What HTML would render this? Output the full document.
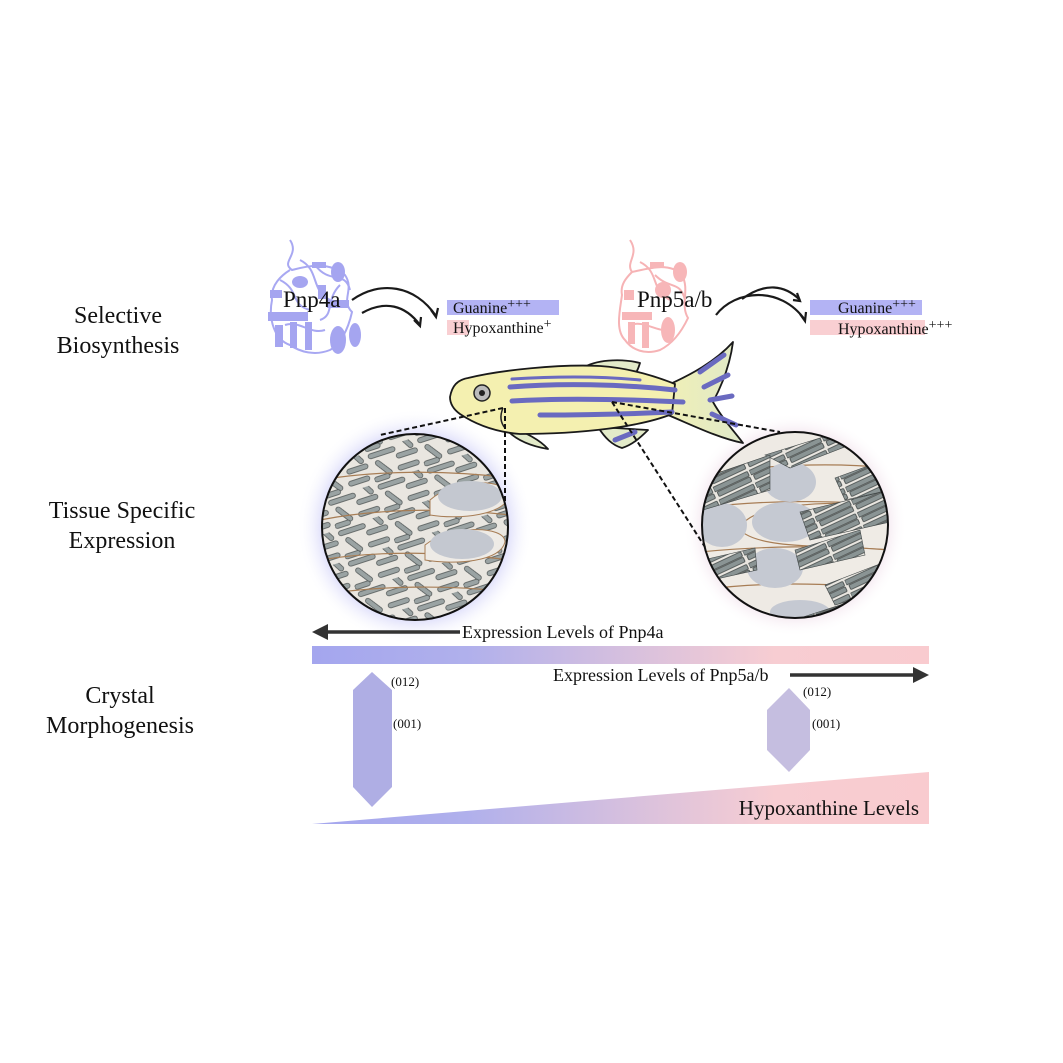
<!DOCTYPE html>
<html><head><meta charset="utf-8"><style>
html,body{margin:0;padding:0;background:#fff;}
svg{display:block;}
text{font-family:"Liberation Serif",serif;fill:#111;}
</style></head><body>
<svg width="1063" height="1063" viewBox="0 0 1063 1063" xmlns="http://www.w3.org/2000/svg">
<defs>
<radialGradient id="gb" cx="0.5" cy="0.5" r="0.5"><stop offset="0.7" stop-color="#c2c2f6"/><stop offset="1" stop-color="#fff" stop-opacity="0"/></radialGradient>
<radialGradient id="gp" cx="0.5" cy="0.5" r="0.5"><stop offset="0.75" stop-color="#ecd6e4"/><stop offset="1" stop-color="#fff" stop-opacity="0"/></radialGradient>
<linearGradient id="bar" x1="0" x2="1"><stop offset="0" stop-color="#a4a6ee"/><stop offset="0.25" stop-color="#b0b0ec"/><stop offset="0.55" stop-color="#dcc2dc"/><stop offset="0.75" stop-color="#f7cdd2"/><stop offset="1" stop-color="#f9cbcf"/></linearGradient>
<linearGradient id="tail" x1="0" x2="1"><stop offset="0" stop-color="#f0efb6"/><stop offset="1" stop-color="#dfe9c9"/></linearGradient>
<pattern id="rodsL" width="52" height="32" patternUnits="userSpaceOnUse" patternTransform="rotate(-18)">
<rect width="52" height="32" fill="#e9e6e0"/>
<g fill="#9aa3a3" stroke="#4c5252" stroke-width="0.7">
<rect x="1" y="2" width="28" height="5" rx="2.5"/><rect x="28" y="10" width="22" height="5" rx="2.5"/>
<rect x="3" y="17" width="20" height="5" rx="2.5" transform="rotate(55 13 19)"/><rect x="26" y="22" width="22" height="5" rx="2.5"/>
<rect x="0" y="26" width="16" height="5" rx="2.5"/><rect x="36" y="0" width="14" height="5" rx="2.5" transform="rotate(60 43 2)"/>
</g></pattern>
<pattern id="rodsR" width="40" height="14" patternUnits="userSpaceOnUse" patternTransform="rotate(-25)">
<rect width="40" height="14" fill="#e9e6e0"/>
<g fill="#8a9494" stroke="#3f4545" stroke-width="0.8">
<rect x="0" y="1" width="38" height="5" rx="1"/><rect x="2" y="7" width="36" height="5" rx="1"/>
</g></pattern>
<clipPath id="cl"><circle cx="415" cy="527" r="93"/></clipPath>
<clipPath id="cr"><circle cx="795" cy="525" r="93"/></clipPath>
</defs>

<text x="118" y="323" font-size="24" text-anchor="middle">Selective</text>
<text x="118" y="353" font-size="24" text-anchor="middle">Biosynthesis</text>
<text x="122" y="518" font-size="24" text-anchor="middle">Tissue Specific</text>
<text x="122" y="548" font-size="24" text-anchor="middle">Expression</text>
<text x="120" y="703" font-size="24" text-anchor="middle">Crystal</text>
<text x="120" y="733" font-size="24" text-anchor="middle">Morphogenesis</text>

<g fill="none" stroke="#a8a8f2" stroke-width="2">
<path d="M290 240 C300 255 280 262 292 270 C310 265 330 262 345 275 C355 290 340 300 352 312 C348 330 340 345 330 350 C315 356 300 352 290 345 C275 340 268 320 272 300 C270 285 282 275 290 270"/>
<path d="M300 260 C320 270 310 290 330 300 M285 325 C300 320 310 335 325 330 M340 285 C325 300 335 315 320 320 M280 280 C300 290 290 305 310 310 M315 265 C330 285 345 270 350 290"/>
</g>
<g fill="#a5a5f0">
<rect x="268" y="312" width="40" height="9"/><rect x="275" y="325" width="8" height="22"/><rect x="290" y="322" width="7" height="26"/><rect x="305" y="322" width="7" height="28"/>
<ellipse cx="338" cy="340" rx="8" ry="14"/><ellipse cx="355" cy="335" rx="6" ry="12"/><ellipse cx="338" cy="272" rx="7" ry="10"/><rect x="312" y="262" width="14" height="6"/><rect x="327" y="300" width="22" height="8"/>
<rect x="270" y="290" width="12" height="8"/><ellipse cx="300" cy="282" rx="8" ry="6"/><rect x="318" y="285" width="8" height="14"/>
</g>
<g fill="none" stroke="#f6b3b5" stroke-width="2">
<path d="M630 240 C640 255 625 262 632 272 C650 268 670 262 682 275 C690 290 680 305 688 318 C680 335 670 345 660 350 C645 355 632 350 625 340 C615 330 620 310 622 295 C620 285 626 278 632 272"/>
<path d="M640 262 C660 272 650 290 670 300 M630 325 C645 320 655 332 670 330 M655 275 C670 290 680 280 685 300"/>
</g>
<g fill="#f7b6b8">
<rect x="622" y="312" width="30" height="8"/><rect x="628" y="322" width="7" height="22"/><rect x="642" y="322" width="7" height="26"/><ellipse cx="668" cy="330" rx="7" ry="13"/><ellipse cx="680" cy="272" rx="7" ry="10"/><rect x="650" y="262" width="14" height="6"/><ellipse cx="663" cy="290" rx="8" ry="8"/><rect x="624" y="290" width="10" height="10"/>
</g>
<text x="283" y="307" font-size="23">Pnp4a</text>
<text x="637" y="307" font-size="23">Pnp5a/b</text>

<g fill="none" stroke="#1a1a1a" stroke-width="2.2">
<path d="M352 300 C380 280 415 285 436 316"/><path d="M431 310 L436 317 L438 308"/>
<path d="M362 313 C385 300 405 305 420 325"/><path d="M414 320 L420 326 L421 317"/>
<path d="M742 299 C765 282 785 285 800 300"/><path d="M793 300 L800 301 L797 293"/>
<path d="M716 315 C735 290 780 285 805 320"/><path d="M800 314 L805 321 L806 312"/>
</g>
<rect x="447" y="300" width="112" height="15" fill="#b3b3f4"/>
<rect x="447" y="320" width="22" height="15" fill="#f9cfd2"/>
<text x="453" y="313" font-size="16">Guanine<tspan font-size="14" dy="-5">+++</tspan></text>
<text x="453" y="333" font-size="16">Hypoxanthine<tspan font-size="14" dy="-5">+</tspan></text>
<rect x="810" y="300" width="112" height="15" fill="#b3b3f4"/>
<rect x="810" y="320" width="115" height="15" fill="#f9cfd2"/>
<text x="838" y="313" font-size="16">Guanine<tspan font-size="14" dy="-5">+++</tspan></text>
<text x="838" y="334" font-size="16">Hypoxanthine<tspan font-size="14" dy="-5">+++</tspan></text>

<circle cx="415" cy="527" r="118" fill="url(#gb)"/>
<circle cx="795" cy="525" r="112" fill="url(#gp)"/>

<g clip-path="url(#cl)">
<rect x="320" y="432" width="190" height="190" fill="url(#rodsL)"/>
<g fill="none" stroke="#a77d55" stroke-width="1.2">
<path d="M320 480 C380 470 450 470 510 478"/><path d="M320 520 C380 508 450 508 510 515"/><path d="M320 560 C380 550 450 552 510 560"/><path d="M320 595 C380 585 450 585 510 592"/>
</g>
<path d="M430 500 C455 478 505 478 510 495 C505 515 460 520 430 515 Z" fill="#eeebe6" stroke="#a77d55"/>
<ellipse cx="470" cy="496" rx="32" ry="15" fill="#c4c8d0"/>
<path d="M425 545 C450 525 505 525 505 542 C500 562 455 565 425 560 Z" fill="#eeebe6" stroke="#a77d55"/>
<ellipse cx="462" cy="544" rx="32" ry="15" fill="#c4c8d0"/>
</g>
<circle cx="415" cy="527" r="93" fill="none" stroke="#111" stroke-width="2"/>

<g clip-path="url(#cr)">
<rect x="700" y="430" width="190" height="190" fill="#eeeae4"/>
<g fill="#efebe5" stroke="#a77d55" stroke-width="1.2">
<path d="M700 475 C760 465 830 462 890 468 L890 505 C830 500 760 500 700 508 Z"/>
<path d="M740 530 C745 505 820 500 890 505 L890 550 C830 545 760 550 740 530 Z"/>
<path d="M700 552 C760 546 830 545 890 550 L890 590 C830 582 760 582 700 590 Z"/>
</g>
<ellipse cx="722" cy="525" rx="25" ry="22" fill="#c5c9d2"/>
<ellipse cx="785" cy="522" rx="33" ry="20" fill="#c5c9d2"/>
<ellipse cx="790" cy="482" rx="26" ry="20" fill="#c5c9d2"/>
<ellipse cx="775" cy="568" rx="28" ry="20" fill="#c5c9d2"/>
<ellipse cx="800" cy="612" rx="30" ry="12" fill="#c5c9d2"/>
<g fill="url(#rodsR)" stroke="#3f4545" stroke-width="0.6">
<polygon points="765,455 830,435 850,445 790,468"/>
<polygon points="703,478 770,455 770,490 703,510"/>
<polygon points="835,478 890,458 890,490 845,500"/>
<polygon points="800,512 890,490 890,522 810,540"/>
<polygon points="795,550 860,530 865,555 800,570"/>
<polygon points="825,585 890,560 890,590 835,605"/>
<polygon points="703,560 755,548 757,570 703,582"/>
<polygon points="800,618 880,592 880,622 805,628"/>
</g>
</g>
<circle cx="795" cy="525" r="93" fill="none" stroke="#111" stroke-width="2"/>

<g stroke="#1a1a1a" stroke-width="1.8" stroke-linejoin="round">
<path d="M583 368 C595 360 620 358 640 363 C638 370 635 375 633 378 Z" fill="#e3ebc9"/>
<path d="M598 427 C605 438 612 445 622 448 C632 445 640 438 648 430 Z" fill="#e3ebc9"/>
<path d="M505 428 C515 440 530 446 548 449 C540 440 525 432 512 428 Z" fill="#e3ebc9"/>
<path d="M668 385 C690 375 715 362 733 342 C730 365 722 385 713 402 C722 418 733 430 743 443 C718 438 692 425 668 415 Z" fill="url(#tail)"/>
<path d="M450 397 C452 386 457 380 468 378 C500 370 560 364 600 366 C630 368 655 376 675 384 L672 414 C640 427 580 434 520 434 C495 432 475 424 460 414 C453 409 450 403 450 397 Z" fill="#f4f0b0"/>
</g>
<g stroke="#6a6ac0" stroke-width="5" stroke-linecap="round" fill="none">
<path d="M512 379 C560 376 600 376 640 380" stroke-width="3"/>
<path d="M510 387 C560 383 620 384 675 390"/>
<path d="M512 401 C560 398 620 399 683 402"/>
<path d="M540 415 C580 415 630 414 672 412"/>
<path d="M700 372 L724 355 M704 387 L728 375 M710 400 L732 396 M712 414 L736 425 M615 440 L635 432"/>
</g>
<circle cx="482" cy="393" r="8" fill="#bbb" stroke="#222" stroke-width="1.5"/>
<circle cx="482" cy="393" r="3" fill="#222"/>
<path d="M503 408 C500 415 500 422 505 428" fill="none" stroke="#222" stroke-width="1.5"/>
<g stroke="#111" stroke-width="2" stroke-dasharray="5 3" fill="none">
<path d="M503 408 L380 435"/><path d="M505 408 L505 503"/>
<path d="M612 402 L780 432"/><path d="M612 402 L705 547"/>
</g>

<g stroke="#333" stroke-width="3.5" fill="#333">
<line x1="322" y1="632" x2="460" y2="632"/>
<polygon points="312,632 328,624 328,640" stroke="none"/>
<line x1="790" y1="675" x2="915" y2="675"/>
<polygon points="929,675 913,667 913,683" stroke="none"/>
</g>
<text x="462" y="638" font-size="18">Expression Levels of Pnp4a</text>
<text x="553" y="681" font-size="18">Expression Levels of Pnp5a/b</text>
<rect x="312" y="646" width="617" height="18" fill="url(#bar)"/>

<polygon points="372,672 392,690 392,787 372,807 353,787 353,690" fill="#afaee4"/>
<polygon points="789,688 810,710 810,750 789,772 767,750 767,710" fill="#c5bee0"/>
<g font-size="13"><text x="391" y="686">(012)</text><text x="393" y="728">(001)</text>
<text x="803" y="696">(012)</text><text x="812" y="728">(001)</text></g>

<polygon points="312,824 929,772 929,824" fill="url(#bar)"/>
<text x="919" y="815" font-size="21" text-anchor="end">Hypoxanthine Levels</text>
</svg>
</body></html>
